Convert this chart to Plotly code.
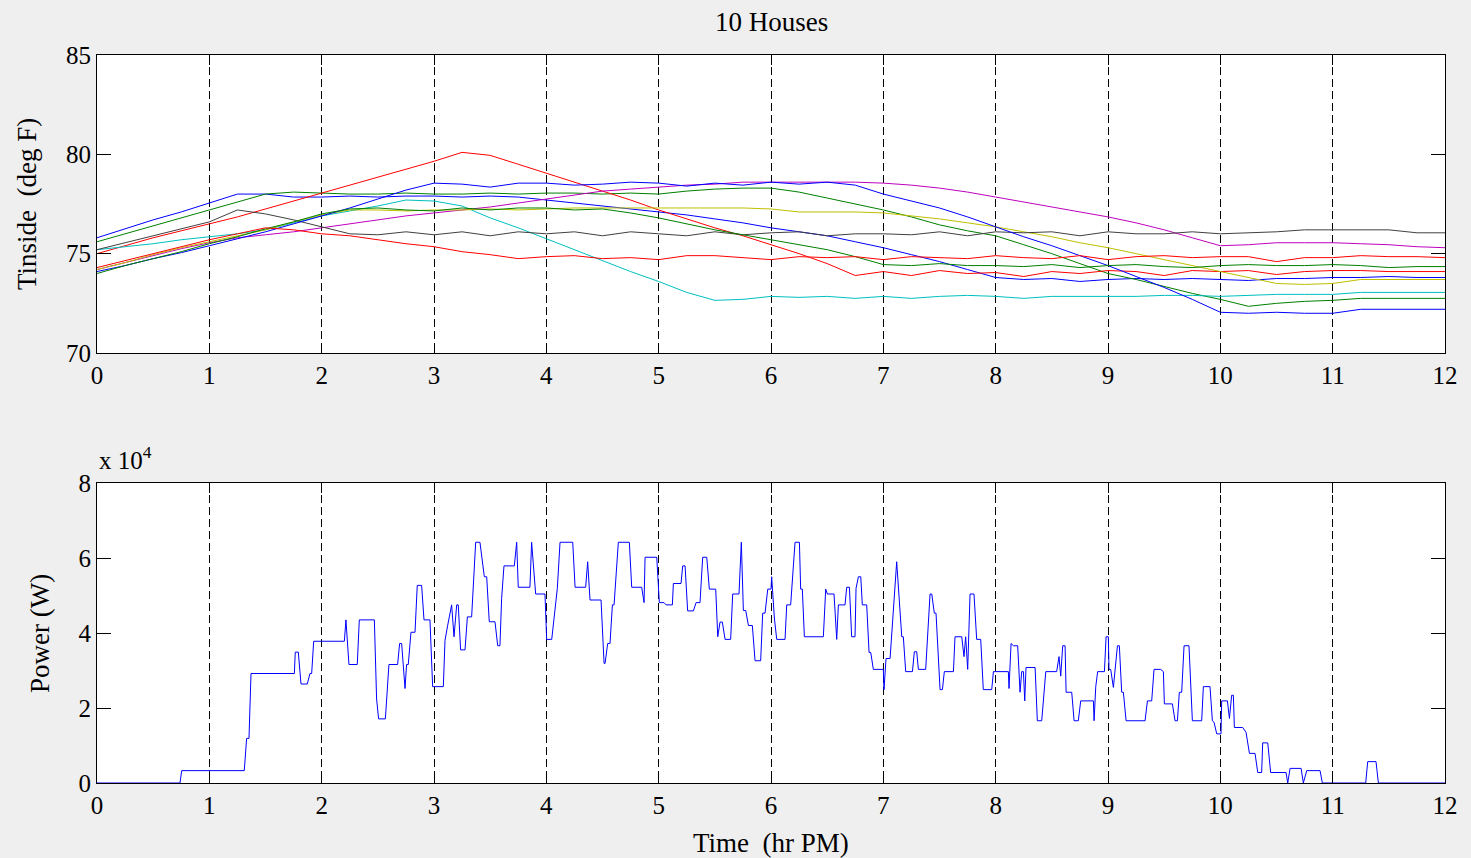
import plotly.graph_objects as go

# ---------------- data ----------------
TIME_HR = [0, 0.25, 0.5, 0.75, 1.0, 1.25, 1.5, 1.75, 2.0, 2.25, 2.5, 2.75, 3.0, 3.25, 3.5, 3.75,
           4.0, 4.25, 4.5, 4.75, 5.0, 5.25, 5.5, 5.75, 6.0, 6.25, 6.5, 6.75, 7.0, 7.25, 7.5, 7.75,
           8.0, 8.25, 8.5, 8.75, 9.0, 9.25, 9.5, 9.75, 10.0, 10.25, 10.5, 10.75, 11.0, 11.25, 11.5,
           11.75, 12.0]

house_blue_a = [75.8, 76.25, 76.7, 77.1, 77.55, 78.0, 78.0, 77.85, 77.85, 77.9, 77.85, 77.9, 77.9,
                77.85, 77.9, 77.85, 77.7, 77.55, 77.4, 77.25, 77.1, 76.95, 76.75, 76.55, 76.3, 76.1,
                75.9, 75.6, 75.3, 74.95, 74.6, 74.2, 73.8, 73.7, 73.75, 73.6, 73.7, 73.75, 73.7,
                73.75, 73.7, 73.65, 73.75, 73.75, 73.8, 73.8, 73.85, 73.8, 73.8]
house_green_a = [75.6, 76.0, 76.4, 76.8, 77.2, 77.6, 78.0, 78.1, 78.05, 78.0, 78.0, 78.05, 78.0,
                 78.0, 78.05, 78.0, 78.05, 78.05, 78.0, 78.05, 78.0, 78.15, 78.25, 78.3, 78.3, 78.1,
                 77.8, 77.5, 77.2, 76.85, 76.45, 76.15, 75.9, 75.45, 75.0, 74.5, 74.0, 73.7, 73.35,
                 73.0, 72.7, 72.35, 72.5, 72.6, 72.65, 72.75, 72.75, 72.75, 72.75]
house_red_a = [75.0, 75.4, 75.8, 76.15, 76.5, 76.85, 77.25, 77.65, 78.05, 78.45, 78.85, 79.25, 79.65,
               80.1, 79.95, 79.5, 79.05, 78.6, 78.15, 77.7, 77.2, 76.75, 76.3, 75.9, 75.45, 75.0,
               74.5, 73.9, 74.1, 73.9, 74.15, 74.0, 74.05, 73.85, 74.1, 74.0, 74.15, 74.1, 73.9,
               74.15, 74.1, 74.15, 73.95, 74.1, 74.15, 74.15, 74.1, 74.1, 74.1]
house_cyan = [75.2, 75.35, 75.5, 75.7, 75.85, 76.0, 76.2, 76.55, 76.9, 77.15, 77.4, 77.7, 77.65,
              77.4, 76.8, 76.3, 75.75, 75.2, 74.65, 74.1, 73.6, 73.05, 72.65, 72.7, 72.85, 72.8,
              72.85, 72.75, 72.85, 72.75, 72.85, 72.9, 72.85, 72.75, 72.85, 72.85, 72.85, 72.85,
              72.9, 72.9, 72.85, 72.9, 72.95, 72.95, 72.95, 73.05, 73.05, 73.05, 73.05]
house_magenta = [74.2, 74.55, 74.9, 75.25, 75.55, 75.8, 75.95, 76.1, 76.3, 76.5, 76.7, 76.9, 77.05,
                 77.2, 77.35, 77.55, 77.75, 77.95, 78.15, 78.25, 78.35, 78.45, 78.5, 78.6, 78.6,
                 78.6, 78.6, 78.6, 78.55, 78.45, 78.3, 78.1, 77.85, 77.6, 77.35, 77.1, 76.85, 76.55,
                 76.2, 75.8, 75.4, 75.45, 75.55, 75.55, 75.55, 75.5, 75.45, 75.35, 75.3]
house_yellow = [74.2, 74.55, 74.95, 75.3, 75.6, 75.9, 76.2, 76.6, 76.95, 77.2, 77.2, 77.15, 77.2,
                77.2, 77.25, 77.2, 77.25, 77.3, 77.3, 77.3, 77.3, 77.3, 77.3, 77.3, 77.25, 77.1,
                77.1, 77.1, 77.05, 76.9, 76.75, 76.55, 76.35, 76.1, 75.85, 75.55, 75.3, 75.0, 74.7,
                74.4, 74.1, 73.8, 73.5, 73.45, 73.5, 73.7, 73.7, 73.7, 73.7]
house_black = [75.2, 75.55, 75.9, 76.25, 76.6, 77.2, 77.0, 76.7, 76.35, 76.0, 75.95, 76.1, 75.95,
               76.1, 75.9, 76.1, 76.0, 76.1, 75.9, 76.1, 76.0, 75.9, 76.1, 75.95, 76.05, 76.1, 75.9,
               76.0, 76.0, 75.95, 76.1, 75.9, 76.1, 76.05, 76.1, 75.9, 76.1, 76.0, 76.0, 76.1, 76.0,
               76.05, 76.1, 76.2, 76.2, 76.2, 76.2, 76.05, 76.05]
house_blue_b = [74.1, 74.4, 74.75, 75.05, 75.4, 75.75, 76.1, 76.5, 76.9, 77.3, 77.75, 78.2, 78.55,
                78.5, 78.35, 78.55, 78.55, 78.45, 78.5, 78.6, 78.55, 78.4, 78.55, 78.45, 78.6, 78.5,
                78.6, 78.45, 78.0, 77.65, 77.3, 76.85, 76.35, 75.85, 75.4, 74.9, 74.4, 73.85, 73.3,
                72.7, 72.05, 72.0, 72.05, 72.0, 72.0, 72.2, 72.2, 72.2, 72.2]
house_green_b = [74.0, 74.4, 74.75, 75.1, 75.5, 75.85, 76.25, 76.6, 77.0, 77.25, 77.3, 77.2, 77.15,
                 77.3, 77.2, 77.3, 77.3, 77.2, 77.25, 77.05, 76.8, 76.5, 76.2, 75.95, 75.7, 75.45,
                 75.2, 74.85, 74.45, 74.4, 74.5, 74.4, 74.4, 74.35, 74.45, 74.3, 74.4, 74.45, 74.35,
                 74.3, 74.4, 74.45, 74.4, 74.4, 74.45, 74.4, 74.3, 74.35, 74.35]
house_red_b = [74.3, 74.65, 75.0, 75.35, 75.7, 76.0, 76.3, 76.2, 76.0, 75.9, 75.7, 75.5, 75.35,
               75.1, 74.95, 74.75, 74.85, 74.9, 74.75, 74.8, 74.7, 74.9, 74.9, 74.8, 74.7, 74.85,
               74.8, 74.85, 74.7, 74.85, 74.8, 74.75, 74.9, 74.8, 74.75, 74.9, 74.7, 74.85, 74.9,
               74.8, 74.85, 74.85, 74.6, 74.8, 74.8, 74.9, 74.85, 74.85, 74.8]

HOUSES = [house_blue_a, house_green_a, house_red_a, house_cyan, house_magenta,
          house_yellow, house_black, house_blue_b, house_green_b, house_red_b]
HOUSE_COLORS = ["#0000ff", "#008000", "#ff0000", "#00bfbf", "#bf00bf",
                "#bfbf00", "#404040", "#0000ff", "#008000", "#ff0000"]

# total power, in units of 1e4 W
POWER_T = [0, 0.739, 0.754, 1.311, 1.332, 1.353, 1.371, 1.757, 1.765, 1.792, 1.816, 1.872, 1.896,
           1.911, 1.929, 2.202, 2.216, 2.243, 2.317, 2.335, 2.469, 2.489, 2.507, 2.567, 2.599, 2.676,
           2.694, 2.712, 2.742, 2.756, 2.771, 2.795, 2.831, 2.851, 2.89, 2.911, 2.964, 2.988, 3.083,
           3.098, 3.121, 3.157, 3.178, 3.202, 3.216, 3.237, 3.276, 3.297, 3.335, 3.356, 3.371, 3.409,
           3.448, 3.469, 3.492, 3.543, 3.567, 3.587, 3.602, 3.623, 3.715, 3.736, 3.75, 3.854, 3.869,
           3.905, 3.988, 4.003, 4.048, 4.098, 4.122, 4.235, 4.256, 4.35, 4.368, 4.389, 4.487, 4.514,
           4.523, 4.546, 4.567, 4.588, 4.603, 4.641, 4.739, 4.76, 4.849, 4.87, 4.879, 4.983, 5.006,
           5.048, 5.066, 5.122, 5.131, 5.199, 5.214, 5.235, 5.258, 5.309, 5.333, 5.368, 5.392, 5.428,
           5.451, 5.508, 5.526, 5.546, 5.567, 5.591, 5.641, 5.659, 5.715, 5.736, 5.754, 5.775, 5.799,
           5.834, 5.858, 5.908, 5.926, 5.947, 5.971, 6.0, 6.006, 6.03, 6.051, 6.125, 6.14, 6.175,
           6.214, 6.253, 6.264, 6.279, 6.297, 6.466, 6.487, 6.502, 6.561, 6.585, 6.6, 6.659, 6.674,
           6.698, 6.718, 6.748, 6.757, 6.778, 6.799, 6.813, 6.852, 6.873, 6.888, 6.911, 7.0, 7.006,
           7.024, 7.06, 7.119, 7.164, 7.178, 7.199, 7.259, 7.276, 7.297, 7.312, 7.377, 7.416, 7.431,
           7.454, 7.469, 7.505, 7.526, 7.543, 7.624, 7.638, 7.698, 7.718, 7.733, 7.751, 7.772, 7.807,
           7.831, 7.867, 7.89, 7.965, 7.98, 8.113, 8.119, 8.137, 8.158, 8.196, 8.217, 8.232, 8.247,
           8.259, 8.27, 8.351, 8.371, 8.41, 8.446, 8.543, 8.564, 8.579, 8.597, 8.618, 8.627, 8.677,
           8.698, 8.736, 8.757, 8.87, 8.876, 8.891, 8.908, 8.968, 8.983, 9.003, 9.009, 9.024, 9.048,
           9.084, 9.101, 9.122, 9.137, 9.161, 9.33, 9.351, 9.389, 9.41, 9.469, 9.493, 9.502, 9.573,
           9.597, 9.618, 9.635, 9.656, 9.677, 9.721, 9.751, 9.834, 9.849, 9.908, 9.929, 9.944, 9.968,
           10.006, 10.012, 10.063, 10.081, 10.101, 10.116, 10.125, 10.199, 10.229, 10.259, 10.309,
           10.333, 10.368, 10.377, 10.422, 10.448, 10.585, 10.6, 10.621, 10.719, 10.739, 10.769,
           10.888, 10.908, 11.294, 11.312, 11.386, 11.407, 12.0]
POWER_1E4W = [0, 0, 0.33, 0.33, 1.19, 1.19, 2.92, 2.92, 3.49, 3.49, 2.64, 2.64, 2.92,
              2.92, 3.78, 3.78, 4.35, 3.16, 3.16, 4.35, 4.35, 2.24, 1.71, 1.71, 3.16, 3.16,
              3.72, 3.72, 2.52, 3.16, 3.16, 4.02, 4.02, 5.27, 5.27, 4.35, 4.35, 2.57, 2.57,
              3.8, 4.19, 4.75, 3.9, 4.75, 4.75, 3.55, 3.55, 4.43, 4.43, 5.68, 6.42, 6.42,
              5.5, 5.5, 4.3, 4.3, 3.66, 3.66, 4.92, 5.79, 5.79, 6.42, 5.22, 5.22, 6.42,
              5.04, 5.04, 3.83, 3.83, 5.19, 6.42, 6.42, 5.22, 5.22, 5.9, 4.88, 4.88, 3.19,
              3.19, 3.72, 3.72, 4.75, 4.75, 6.42, 6.42, 5.22, 5.22, 4.81, 6.02, 6.02, 4.81,
              4.81, 4.75, 4.75, 5.32, 5.32, 5.79, 5.79, 4.59, 4.59, 4.81, 4.81, 6.02, 6.02,
              5.17, 5.17, 3.9, 4.29, 4.29, 3.83, 3.83, 5.04, 5.04, 6.42, 4.6, 4.6, 4.2,
              4.2, 3.26, 3.26, 4.53, 4.53, 5.17, 5.17, 5.5, 4.4, 3.83, 3.83, 4.75, 4.75,
              6.42, 6.42, 5.17, 5.17, 3.9, 3.9, 5.17, 5.04, 5.04, 3.83, 4.75, 4.75, 5.22,
              5.22, 3.9, 3.9, 5.19, 5.5, 5.5, 4.75, 4.75, 3.48, 3.48, 3.03, 3.03, 2.49,
              3.32, 3.32, 5.9, 3.9, 3.9, 2.97, 2.97, 3.5, 3.5, 3.03, 3.03, 5.04, 5.04,
              4.53, 4.53, 2.49, 2.49, 2.97, 2.97, 3.9, 3.9, 3.37, 3.9, 3.03, 5.04, 5.04,
              3.83, 3.83, 2.49, 2.49, 2.97, 2.97, 2.52, 3.72, 3.66, 3.66, 2.42, 2.97, 2.97,
              2.19, 3.08, 3.08, 1.66, 1.66, 2.97, 2.97, 3.37, 2.85, 3.66, 3.66, 2.42, 2.42,
              1.66, 1.66, 2.19, 2.19, 1.66, 2.57, 2.97, 2.97, 3.9, 3.9, 3.03, 3.03, 2.55,
              3.66, 3.66, 2.42, 2.42, 1.66, 1.66, 2.19, 2.19, 3.03, 3.03, 2.97, 2.11, 2.11,
              1.66, 1.66, 2.42, 2.42, 3.66, 3.66, 1.66, 1.66, 2.57, 2.57, 1.66, 1.62, 1.31,
              1.31, 2.19, 2.19, 1.72, 2.34, 2.34, 1.48, 1.48, 1.35, 0.79, 0.79,
              0.28, 0.28, 1.07, 1.07, 0.28, 0.28, 0, 0.39, 0.39, 0, 0.33,
              0.33, 0, 0, 0.57, 0.57, 0, 0]

X_TICKS = [0, 1, 2, 3, 4, 5, 6, 7, 8, 9, 10, 11, 12]
TEMP_TICKS = [70, 75, 80, 85]
POWER_TICKS = [0, 2, 4, 6, 8]

assert all(len(h) == len(TIME_HR) for h in HOUSES)
assert len(POWER_T) == len(POWER_1E4W)

# ---------------- figure ----------------
FONT = "Liberation Serif"
fig = go.Figure()

for vals, col in zip(HOUSES, HOUSE_COLORS):
    fig.add_trace(go.Scatter(x=TIME_HR, y=vals, mode="lines",
                             line=dict(color=col, width=1),
                             xaxis="x", yaxis="y", showlegend=False, hoverinfo="skip"))

fig.add_trace(go.Scatter(x=POWER_T, y=POWER_1E4W, mode="lines",
                         line=dict(color="#0000ff", width=1),
                         xaxis="x2", yaxis="y2", showlegend=False, hoverinfo="skip"))

common_x = dict(range=[0, 12], tickvals=X_TICKS, ticks="inside", ticklen=10, tickcolor="black",
                showline=True, linecolor="black", linewidth=1, mirror="ticks",
                showgrid=True, gridcolor="black", gridwidth=1, griddash="8px,4px",
                zeroline=False, tickfont=dict(family=FONT, size=25, color="black"))
common_y = dict(ticks="inside", ticklen=14, tickcolor="black",
                showline=True, linecolor="black", linewidth=1, mirror="ticks",
                showgrid=False, zeroline=False,
                tickfont=dict(family=FONT, size=25, color="black"))

fig.update_layout(
    width=1471, height=858, autosize=False,
    margin=dict(l=97, r=26, t=55, b=75),
    paper_bgcolor="#efefef", plot_bgcolor="white",
    xaxis=dict(domain=[0, 1], anchor="y", **common_x),
    yaxis=dict(domain=[430 / 728, 1], anchor="x", range=[70, 85], tickvals=TEMP_TICKS, **common_y),
    xaxis2=dict(domain=[0, 1], anchor="y2", **common_x),
    yaxis2=dict(domain=[0, 300 / 728], anchor="x2", range=[0, 8], tickvals=POWER_TICKS, **common_y),
    annotations=[
        dict(text="10 Houses", x=0.5, y=(783 - 22) / 728, xref="paper", yref="paper",
             xanchor="center", yanchor="middle", showarrow=False,
             font=dict(family=FONT, size=27, color="black")),
        dict(text="Tinside  (deg F)", x=(27 - 97) / 1348, y=(783 - 204) / 728,
             xref="paper", yref="paper", xanchor="center", yanchor="middle",
             textangle=-90, showarrow=False, font=dict(family=FONT, size=27, color="black")),
        dict(text="Power (W)", x=(40 - 97) / 1348, y=(783 - 633) / 728,
             xref="paper", yref="paper", xanchor="center", yanchor="middle",
             textangle=-90, showarrow=False, font=dict(family=FONT, size=27, color="black")),
        dict(text="Time  (hr PM)", x=0.5, y=(783 - 843) / 728, xref="paper", yref="paper",
             xanchor="center", yanchor="middle", showarrow=False,
             font=dict(family=FONT, size=27, color="black")),
        dict(text="x 10<sup>4</sup>", x=0, y=(783 - 458) / 728, xref="paper", yref="paper",
             xanchor="left", yanchor="middle", showarrow=False,
             font=dict(family=FONT, size=25, color="black")),
    ],
)

fig.write_html("out.html")
